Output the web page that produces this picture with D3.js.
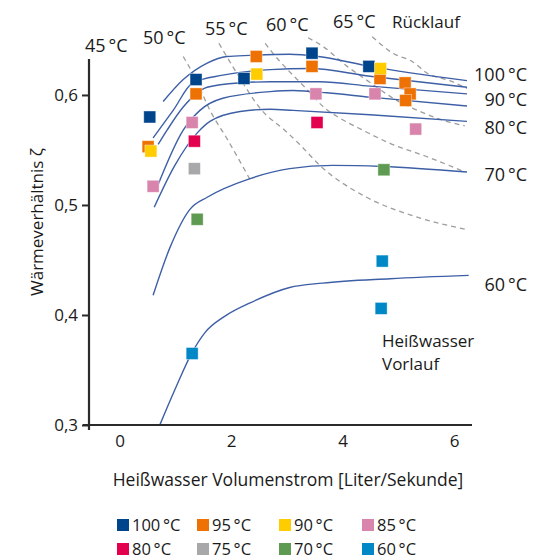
<!DOCTYPE html>
<html>
<head>
<meta charset="utf-8">
<title>Wärmeverhältnis</title>
<script src="https://cdn.jsdelivr.net/npm/d3@7"></script>
<style>
  body { margin: 0; background: #fff; }
  text { font-family: "Open Sans", "Noto Sans", sans-serif; fill: #1a1a1a; }
</style>
</head>
<body>
<script>
// measured points per supply temperature [flow l/s, ratio]
var seriesNames = ["100\u2009°C", "95\u2009°C", "90\u2009°C", "85\u2009°C", "80\u2009°C", "75\u2009°C", "70\u2009°C", "60\u2009°C"];
var seriesColors = ["#00458c", "#ee7203", "#ffcc00", "#d984ac", "#e3004f", "#a8a8ab", "#5e9a52", "#0088c6"];

var pts100 = [[0.54, 0.580], [1.37, 0.614], [2.23, 0.615], [3.45, 0.638], [4.47, 0.626]];
var pts95 = [[0.51, 0.553], [1.37, 0.601], [2.45, 0.635], [3.45, 0.626], [4.67, 0.615], [5.12, 0.611], [5.21, 0.601], [5.13, 0.595]];
var pts90 = [[0.56, 0.549], [2.46, 0.619], [4.68, 0.624]];
var pts85 = [[0.60, 0.517], [1.30, 0.575], [3.52, 0.601], [4.58, 0.601], [5.31, 0.569]];
var pts80 = [[1.34, 0.558], [3.54, 0.575]];
var pts75 = [[1.34, 0.533]];
var pts70 = [[1.39, 0.487], [4.74, 0.532]];
var pts60 = [[1.30, 0.365], [4.71, 0.449], [4.69, 0.406]];
var allPoints = [pts100, pts95, pts90, pts85, pts80, pts75, pts70, pts60];

// model curves (Heißwasser Vorlauf)
var curve100 = [[0.78, 0.594], [1.14, 0.614], [1.57, 0.629], [1.92, 0.635], [2.34, 0.636], [3.05, 0.637], [3.56, 0.635], [4.49, 0.626], [6.23, 0.613]];
var curve95 = [[0.60, 0.561], [0.96, 0.586], [1.31, 0.611], [1.85, 0.618], [2.70, 0.623], [3.41, 0.624], [4.49, 0.617], [6.23, 0.607]];
var curve90 = [[0.69, 0.555], [0.85, 0.568], [1.14, 0.589], [1.57, 0.607], [2.16, 0.611], [2.70, 0.612], [3.59, 0.612], [4.49, 0.608], [6.23, 0.601]];
var curve85 = [[0.67, 0.516], [1.14, 0.568], [1.44, 0.586], [1.85, 0.597], [2.70, 0.603], [3.11, 0.604], [3.72, 0.602], [4.49, 0.598], [6.23, 0.590]];
var curve80 = [[0.62, 0.498], [0.99, 0.536], [1.40, 0.566], [1.62, 0.576], [2.16, 0.585], [2.70, 0.587], [3.11, 0.586], [4.49, 0.582], [6.23, 0.576]];
var curve70 = [[0.60, 0.418], [0.90, 0.461], [1.26, 0.496], [1.57, 0.507], [2.34, 0.524], [3.05, 0.533], [3.82, 0.536], [4.72, 0.535], [6.23, 0.530]];
var curve60 = [[0.72, 0.300], [0.99, 0.332], [1.30, 0.366], [1.53, 0.384], [1.89, 0.399], [2.34, 0.411], [3.05, 0.425], [3.64, 0.429], [4.85, 0.433], [6.26, 0.436]];
var curves = [curve100, curve95, curve90, curve85, curve80, curve70, curve60];

// return temperature lines (Rücklauf)
var ret50 = [[1.14, 0.635], [1.35, 0.616], [1.62, 0.586], [1.94, 0.559], [2.34, 0.523]];
var ret55 = [[1.78, 0.647], [2.10, 0.620], [2.55, 0.586], [2.96, 0.568], [3.23, 0.555], [3.59, 0.536], [4.43, 0.507], [5.21, 0.491], [6.19, 0.478]];
var ret60 = [[2.61, 0.647], [2.70, 0.641], [3.36, 0.605], [3.68, 0.588], [3.95, 0.579], [4.36, 0.568], [4.85, 0.556], [5.56, 0.543], [6.19, 0.530]];
var ret65 = [[3.38, 0.652], [3.65, 0.644], [4.08, 0.626], [4.36, 0.616], [5.08, 0.592], [5.39, 0.585], [5.80, 0.577], [6.19, 0.572]];
var ret70 = [[4.53, 0.653], [4.90, 0.638], [5.26, 0.630], [5.51, 0.620], [5.92, 0.613], [6.23, 0.606]];
var returnLines = [ret50, ret55, ret60, ret65, ret70];

var xTicks = [0, 2, 4, 6];
var yTicks = [0.3, 0.4, 0.5, 0.6];
var curveLabels = ["100\u2009°C", "90\u2009°C", "80\u2009°C", "70\u2009°C", "60\u2009°C"];
var returnLabels = ["45\u2009°C", "50\u2009°C", "55\u2009°C", "60\u2009°C", "65\u2009°C", "Rücklauf"];

var w = 543, h = 560;
var svg = d3.select("body").append("svg").attr("width", w).attr("height", h);

var x = d3.scaleLinear().domain([-0.55, 6.32]).range([89, 472]);
var y = d3.scaleLinear().domain([0.3, 0.6327]).range([425, 59]);

var line = d3.line()
  .x(function(d) { return x(d[0]); })
  .y(function(d) { return y(d[1]); })
  .curve(d3.curveMonotoneX);

// dashed return lines
svg.append("g").selectAll("path")
  .data(returnLines)
  .enter().append("path")
    .attr("d", line)
    .attr("fill", "none")
    .attr("stroke", "#9d9d9d")
    .attr("stroke-width", 1.3)
    .attr("stroke-dasharray", "5,4");

// supply curves
svg.append("g").selectAll("path")
  .data(curves)
  .enter().append("path")
    .attr("d", line)
    .attr("fill", "none")
    .attr("stroke", "#3d5fa6")
    .attr("stroke-width", 1.4);

// axes
var comma = function(d) { return d3.format(".1f")(d).replace(".", ","); };

var yAxis = svg.append("g")
  .attr("transform", "translate(" + x(-0.55) + ",0)")
  .call(d3.axisLeft(y).tickValues(yTicks).tickSize(7).tickPadding(4).tickFormat(comma));
yAxis.select(".domain").remove();
yAxis.selectAll("line").attr("stroke", "#2b2b2b").attr("stroke-width", 2);
yAxis.selectAll("text").style("font-size", "17px").attr("fill", "#1a1a1a");

var xAxis = svg.append("g")
  .attr("transform", "translate(0," + y(0.3) + ")")
  .call(d3.axisBottom(x).tickValues(xTicks).tickSize(0).tickPadding(10).tickFormat(d3.format("d")));
xAxis.select(".domain").remove();
xAxis.selectAll("text").style("font-size", "17px").attr("fill", "#1a1a1a");

svg.append("line")
  .attr("x1", x(-0.55)).attr("x2", x(-0.55))
  .attr("y1", y.range()[1]).attr("y2", y(0.3) + 5)
  .attr("stroke", "#2b2b2b").attr("stroke-width", 2.2);
svg.append("line")
  .attr("x1", x(-0.55) - 6).attr("x2", x.range()[1])
  .attr("y1", y(0.3)).attr("y2", y(0.3))
  .attr("stroke", "#2b2b2b").attr("stroke-width", 2.2);

// measured points
var sq = 12;
allPoints.forEach(function(pts, i) {
  svg.append("g").selectAll("rect")
    .data(pts)
    .enter().append("rect")
      .attr("x", function(d) { return x(d[0]) - sq / 2; })
      .attr("y", function(d) { return y(d[1]) - sq / 2; })
      .attr("width", sq).attr("height", sq)
      .attr("fill", seriesColors[i])
      .attr("stroke", "#fff").attr("stroke-opacity", 0.5).attr("stroke-width", 0.8);
});

// labels at curve ends
var curveLabelY = [81, 106, 134, 181, 291];
svg.append("g").selectAll("text")
  .data(curveLabels)
  .enter().append("text")
    .attr("x", 527)
    .attr("y", function(d, i) { return curveLabelY[i]; })
    .attr("text-anchor", "end")
    .style("font-size", "18px")
    .text(function(d) { return d; });

// return temperature labels along the top
var returnLabelPos = [[85, 52], [143, 44], [205, 35], [266, 31], [333, 28], [392, 28]];
svg.append("g").selectAll("text")
  .data(returnLabels)
  .enter().append("text")
    .attr("x", function(d, i) { return returnLabelPos[i][0]; })
    .attr("y", function(d, i) { return returnLabelPos[i][1]; })
    .style("font-size", function(d, i) { return i == 5 ? "17px" : "18px"; })
    .text(function(d) { return d; });

svg.append("text").attr("x", 382).attr("y", 347).style("font-size", "17px").text("Heißwasser");
svg.append("text").attr("x", 382).attr("y", 370).style("font-size", "17px").text("Vorlauf");

// axis titles
svg.append("text")
  .attr("x", 288).attr("y", 486)
  .attr("text-anchor", "middle")
  .style("font-size", "17.5px")
  .text("Heißwasser Volumenstrom [Liter/Sekunde]");

svg.append("text")
  .attr("transform", "translate(43,222) rotate(-90)")
  .attr("text-anchor", "middle")
  .style("font-size", "17px")
  .text("Wärmeverhältnis ζ");

// legend
var legendCols = [117, 197, 279, 362], legendRows = [519, 543];
var legend = svg.append("g").selectAll("g")
  .data(seriesNames)
  .enter().append("g")
    .attr("transform", function(d, i) {
      return "translate(" + legendCols[i % 4] + "," + legendRows[Math.floor(i / 4)] + ")";
    });
legend.append("rect")
  .attr("width", sq).attr("height", sq)
  .attr("fill", function(d, i) { return seriesColors[i]; });
legend.append("text")
  .attr("x", 15).attr("y", 12)
  .style("font-size", "16.5px")
  .text(function(d) { return d; });
</script>
</body>
</html>
